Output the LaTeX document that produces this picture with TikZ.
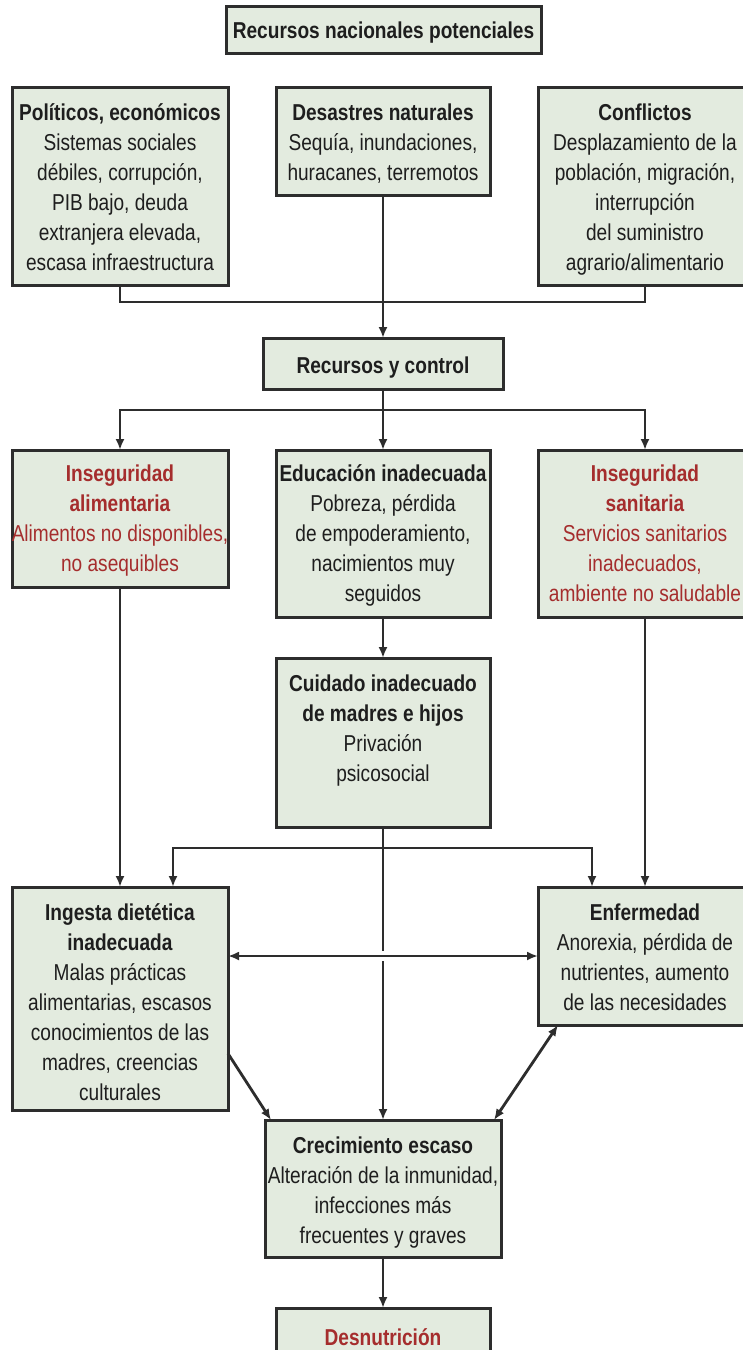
\documentclass[tikz,border=0pt]{standalone}
\usepackage{fontspec}
\setmainfont{Liberation Sans}[FakeStretch=0.83]
\usetikzlibrary{arrows.meta}
\definecolor{boxfill}{RGB}{227,235,223}
\definecolor{boxline}{RGB}{45,45,45}
\definecolor{ink}{RGB}{30,30,30}
\definecolor{redink}{RGB}{165,45,45}
\tikzset{
  box/.style={draw=boxline, fill=boxfill, line width=3pt, inner sep=0pt, outer sep=0pt, anchor=north west},
  txt/.style={font=\fontsize{23}{30}\selectfont, align=center, text=ink, inner sep=0pt, anchor=north},
  redtxt/.style={txt, text=redink},
  conn/.style={draw=boxline, line width=2.8pt},
  arr/.style={conn, -{Latex[length=11pt,width=9pt]}},
  darr/.style={conn, {Latex[length=11pt,width=9pt]}-{Latex[length=11pt,width=9pt]}},
}
\begin{document}
\begin{tikzpicture}[x=1pt,y=-1pt]
\useasboundingbox (0,0) rectangle (743,1350);
\clip (0,0) rectangle (743,1350);
\fill[white] (0,0) rectangle (743,1350);

% boxes
\node[box, minimum width=315pt, minimum height=47pt] (top) at (226,6) {};
\node[box, minimum width=216pt, minimum height=198pt] (pol) at (12,87) {};
\node[box, minimum width=214pt, minimum height=108pt] (des) at (276,87) {};
\node[box, minimum width=214pt, minimum height=198pt] (conf) at (538,87) {};
\node[box, minimum width=240pt, minimum height=51pt] (rc) at (263,338) {};
\node[box, minimum width=216pt, minimum height=137pt] (ia) at (12,450) {};
\node[box, minimum width=214pt, minimum height=167pt] (edu) at (276,450) {};
\node[box, minimum width=214pt, minimum height=167pt] (isn) at (538,450) {};
\node[box, minimum width=214pt, minimum height=169pt] (cui) at (276,658) {};
\node[box, minimum width=216pt, minimum height=223pt] (ing) at (12,887) {};
\node[box, minimum width=214pt, minimum height=138pt] (enf) at (538,887) {};
\node[box, minimum width=236pt, minimum height=137pt] (cre) at (265,1120) {};
\node[box, minimum width=214pt, minimum height=70pt] (dn) at (276,1308) {};

% texts
\node[txt] (ttop) at ([yshift=-11pt]top.north) {\strut\textbf{Recursos nacionales potenciales}};
\node[txt] (tpol) at ([yshift=-12pt]pol.north) {\strut\textbf{Políticos, económicos}\\Sistemas sociales\\débiles, corrupción,\\PIB bajo, deuda\\extranjera elevada,\\escasa infraestructura};
\node[txt] (tdes) at ([yshift=-12pt]des.north) {\strut\textbf{Desastres naturales}\\Sequía, inundaciones,\\huracanes, terremotos};
\node[txt] (tconf) at ([yshift=-12pt]conf.north) {\strut\textbf{Conflictos}\\Desplazamiento de la\\población, migración,\\interrupción\\del suministro\\agrario/alimentario};
\node[txt] (trc) at ([yshift=-14pt]rc.north) {\strut\textbf{Recursos y control}};
\node[redtxt] (tia) at ([yshift=-10pt]ia.north) {\strut\textbf{Inseguridad}\\\textbf{alimentaria}\\Alimentos no disponibles,\\no asequibles};
\node[txt] (tedu) at ([yshift=-10pt]edu.north) {\strut\textbf{Educación inadecuada}\\Pobreza, pérdida\\de empoderamiento,\\nacimientos muy\\seguidos};
\node[redtxt] (tisn) at ([yshift=-10pt]isn.north) {\strut\textbf{Inseguridad}\\\textbf{sanitaria}\\Servicios sanitarios\\inadecuados,\\ambiente no saludable};
\node[txt] (tcui) at ([yshift=-12pt]cui.north) {\strut\textbf{Cuidado inadecuado}\\\textbf{de madres e hijos}\\Privación\\psicosocial};
\node[txt] (ting) at ([yshift=-12pt]ing.north) {\strut\textbf{Ingesta dietética}\\\textbf{inadecuada}\\Malas prácticas\\alimentarias, escasos\\conocimientos de las\\madres, creencias\\culturales};
\node[txt] (tenf) at ([yshift=-12pt]enf.north) {\strut\textbf{Enfermedad}\\Anorexia, pérdida de\\nutrientes, aumento\\de las necesidades};
\node[txt] (tcre) at ([yshift=-12pt]cre.north) {\strut\textbf{Crecimiento escaso}\\Alteración de la inmunidad,\\infecciones más\\frecuentes y graves};
\node[redtxt] (tdn) at ([yshift=-16pt]dn.north) {\strut\textbf{Desnutrición}};

% junctions
\coordinate (j1) at (383,302);
\coordinate (j2) at (383,410);
\coordinate (j3) at (383,848);
\coordinate (cross) at (383,956);

% connectors
\draw[conn] (pol.south) |- (j1) -| (conf.south);
\draw[arr] (des.south) -- (rc.north);
\draw[conn] (rc.south) -- (j2);
\draw[arr] (j2) -| (ia.north);
\draw[arr] (j2) -| (isn.north);
\draw[arr] (j2) -- (edu.north);
\draw[arr] (edu.south) -- (cui.north);
\draw[arr] (ia.south) -- (ing.north);
\draw[arr] (isn.south) -- (enf.north);
\draw[conn] (cui.south) -- (j3);
\draw[arr] (j3) -| ([xshift=53pt]ing.north);
\draw[arr] (j3) -| ([xshift=-53pt]enf.north);
\draw[conn] (j3) -- ([yshift=5pt]cross);
\draw[arr] ([yshift=-5pt]cross) -- (cre.north);
\draw[darr] (ing.east |- enf.west) -- (enf.west);
\draw[arr] ([yshift=-55pt]ing.east) -- ([xshift=6pt]cre.north west);
\draw[darr] ([xshift=-7pt]cre.north east) -- ([xshift=20pt]enf.south west);
\draw[arr] (cre.south) -- (dn.north);
\end{tikzpicture}
\end{document}
